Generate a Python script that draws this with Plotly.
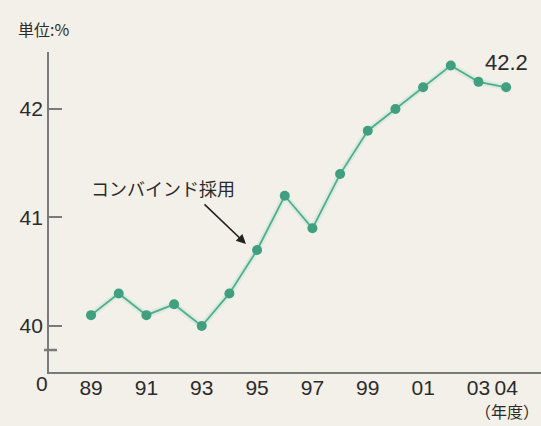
import plotly.graph_objects as go

# Thermal efficiency by fiscal year (%)
years = [1989, 1990, 1991, 1992, 1993, 1994, 1995, 1996,
         1997, 1998, 1999, 2000, 2001, 2002, 2003, 2004]
efficiency = [40.1, 40.3, 40.1, 40.2, 40.0, 40.3, 40.7, 41.2,
              40.9, 41.4, 41.8, 42.0, 42.2, 42.4, 42.25, 42.2]

x_tick_vals = [1989, 1991, 1993, 1995, 1997, 1999, 2001, 2003, 2004]
x_tick_text = ["89", "91", "93", "95", "97", "99", "01", "03", "04"]
y_tick_vals = [40, 41, 42]
y_tick_text = ["40", "41", "42"]

W, H = 541, 426
ML, MR, MT, MB = 49, 0, 52, 54
PW, PH = W - ML - MR, H - MT - MB


def px_x(x):
    return (x - ML) / PW


def px_y(y):
    return (H - MB - y) / PH


BG = "#f3f0ea"
AXIS = "#7a7a7a"
TEXT = "#2b2b2b"
LINE = "#4fae8d"
MARK = "#3f9f7f"
NUM_FONT = "Liberation Sans"

fig = go.Figure()

# soft glow under the line
fig.add_trace(go.Scatter(
    x=years, y=efficiency, mode="lines",
    line=dict(color="rgba(150,215,190,0.25)", width=6),
    hoverinfo="skip", showlegend=False,
))
fig.add_trace(go.Scatter(
    x=years, y=efficiency, mode="lines+markers",
    line=dict(color=LINE, width=1.8),
    marker=dict(color=MARK, size=10, line=dict(width=0)),
    showlegend=False, cliponaxis=False,
))

annotations = [
    dict(text="単位:%", xref="paper", yref="paper", x=px_x(16), y=px_y(29),
         xanchor="left", yanchor="middle", showarrow=False,
         font=dict(family="Noto Sans CJK JP", size=16, color=TEXT)),
    dict(text="42.2", xref="paper", yref="paper", x=px_x(506), y=px_y(62),
         xanchor="center", yanchor="middle", showarrow=False,
         font=dict(family=NUM_FONT, size=22, color=TEXT)),
    dict(text="コンバインド採用", xref="paper", yref="paper", x=px_x(163), y=px_y(188),
         xanchor="center", yanchor="middle", showarrow=False,
         font=dict(family="Noto Sans CJK JP", size=18, color=TEXT)),
    dict(text="", xref="paper", yref="paper", x=px_x(246), y=px_y(244),
         ax=-43, ay=-41, showarrow=True, arrowhead=2, arrowsize=1.2,
         arrowwidth=1.6, arrowcolor="#222222"),
    dict(text="0", xref="paper", yref="paper", x=px_x(42), y=px_y(383),
         xanchor="center", yanchor="middle", showarrow=False,
         font=dict(family=NUM_FONT, size=21, color=TEXT)),
    dict(text="（年度）", xref="paper", yref="paper", x=px_x(507), y=px_y(411),
         xanchor="center", yanchor="middle", showarrow=False,
         font=dict(family="Noto Sans CJK JP", size=16, color=TEXT)),
]

shapes = [
    # axis break mark
    dict(type="line", xref="paper", yref="paper",
         x0=px_x(44), x1=px_x(57), y0=px_y(350), y1=px_y(350),
         line=dict(color=AXIS, width=2.5)),
]

fig.update_layout(
    width=W, height=H,
    margin=dict(l=ML, r=MR, t=MT, b=MB),
    paper_bgcolor=BG, plot_bgcolor=BG,
    annotations=annotations, shapes=shapes,
    xaxis=dict(
        range=[1987.48, 2005.26],
        tickvals=x_tick_vals, ticktext=x_tick_text, tickangle=0,
        ticks="", showgrid=False, zeroline=False,
        showline=True, linecolor=AXIS, linewidth=1.8,
        tickfont=dict(family=NUM_FONT, size=21, color=TEXT),
        ticklabelstandoff=-4,
    ),
    yaxis=dict(
        range=[39.576, 42.525],
        tickvals=y_tick_vals, ticktext=y_tick_text,
        ticks="inside", ticklen=13, tickwidth=1.5, tickcolor=AXIS,
        showgrid=False, zeroline=False,
        showline=True, linecolor=AXIS, linewidth=1.8,
        tickfont=dict(family=NUM_FONT, size=21, color=TEXT),
        ticklabelstandoff=0,
    ),
)

fig.write_html("out.html")
